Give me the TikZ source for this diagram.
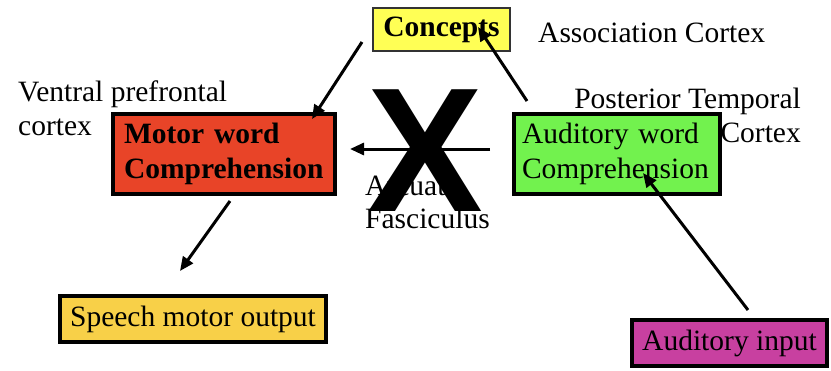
\documentclass[tikz,border=0pt]{standalone}
\usepackage{fontspec}
\setmainfont{Liberation Serif}
\newfontfamily\crossfont{Liberation Sans}
\usetikzlibrary{arrows.meta}

\definecolor{conceptyellow}{HTML}{FFFF55}
\definecolor{motorred}{HTML}{E84428}
\definecolor{audgreen}{HTML}{72F24E}
\definecolor{speechgold}{HTML}{F8D048}
\definecolor{inputmagenta}{HTML}{C840A0}

\tikzset{
  lbl/.style={inner sep=0pt, font=\fontsize{29.5}{34}\selectfont},
  bigbox/.style={draw=black, line width=4pt, inner ysep=0pt, minimum height=80pt,
    align=left, font=\fontsize{29.5}{34.5}\selectfont},
  smallbox/.style={draw=black, line width=4pt, inner sep=0pt, minimum height=46pt,
    font=\fontsize{29.5}{34}\selectfont},
  arr/.style={line width=3pt, -{Triangle[length=14pt,width=12pt]}},
}

\begin{document}
\begin{tikzpicture}[x=1pt,y=-1pt]
  \useasboundingbox (0,0) rectangle (831,370);

  % side labels
  \node[lbl, anchor=base west] (assoc) at (538,42) {Association Cortex};
  \node[lbl, anchor=base west] (ventral1) at (18,101) {Ventral prefrontal};
  \node[lbl, anchor=base west] (ventral2) at (18,135) {cortex};
  \node[lbl, anchor=base east] (post1) at (801,108) {Posterior Temporal};
  \node[lbl, anchor=base east] (post2) at (801,142) {Cortex};
  \node[lbl, anchor=base west] (arc1) at (365,195) {Arcuate};
  \node[lbl, anchor=base west] (arc2) at (365,228) {Fasciculus};

  % boxes
  \node[draw=black!80, line width=2pt, fill=conceptyellow, minimum width=137pt,
        minimum height=43pt, inner sep=0pt, font=\bfseries\fontsize{29.5}{34}\selectfont]
        (concepts) at (441.5,29.5) {Concepts};
  \node[bigbox, fill=motorred, minimum width=222pt, text width=200pt, inner xsep=11pt,
        font=\bfseries\fontsize{29.5}{34.5}\selectfont]
        (motor) at (224,154) {Motor word\\Comprehension};
  \node[bigbox, fill=audgreen, minimum width=206pt, text width=190pt, inner xsep=8pt]
        (audword) at (617,154) {Auditory word\\Comprehension};
  \node[smallbox, fill=speechgold, minimum width=266pt]
        (speech) at (193,319) {Speech motor output};
  \node[smallbox, fill=inputmagenta, minimum width=195pt]
        (input) at (729.5,343) {Auditory input};

  % connections
  \draw[arr] ([shift={(-10,-10)}]concepts.south west) -- ([shift={(-25,7)}]motor.north east);
  \draw[arr] ([shift={(6,5)}]motor.south) -- ([shift={(-13,-23)}]speech.north);
  \draw[arr] ([shift={(18.5,-8)}]input.north) -- ([shift={(26,19)}]audword.center);
  \draw[arr] ([shift={(15,-11)}]audword.north west) -- ([shift={(36.5,-2.5)}]concepts.center);
  \draw[arr] ([shift={(-22,-5)}]audword.west) -- ([shift={(13,-5)}]motor.east);

  % blocked pathway
  \node[inner sep=0pt, xscale=0.98, font=\crossfont\bfseries\fontsize{177}{177}\selectfont]
        (cross) at (425,151) {X};
\end{tikzpicture}
\end{document}
